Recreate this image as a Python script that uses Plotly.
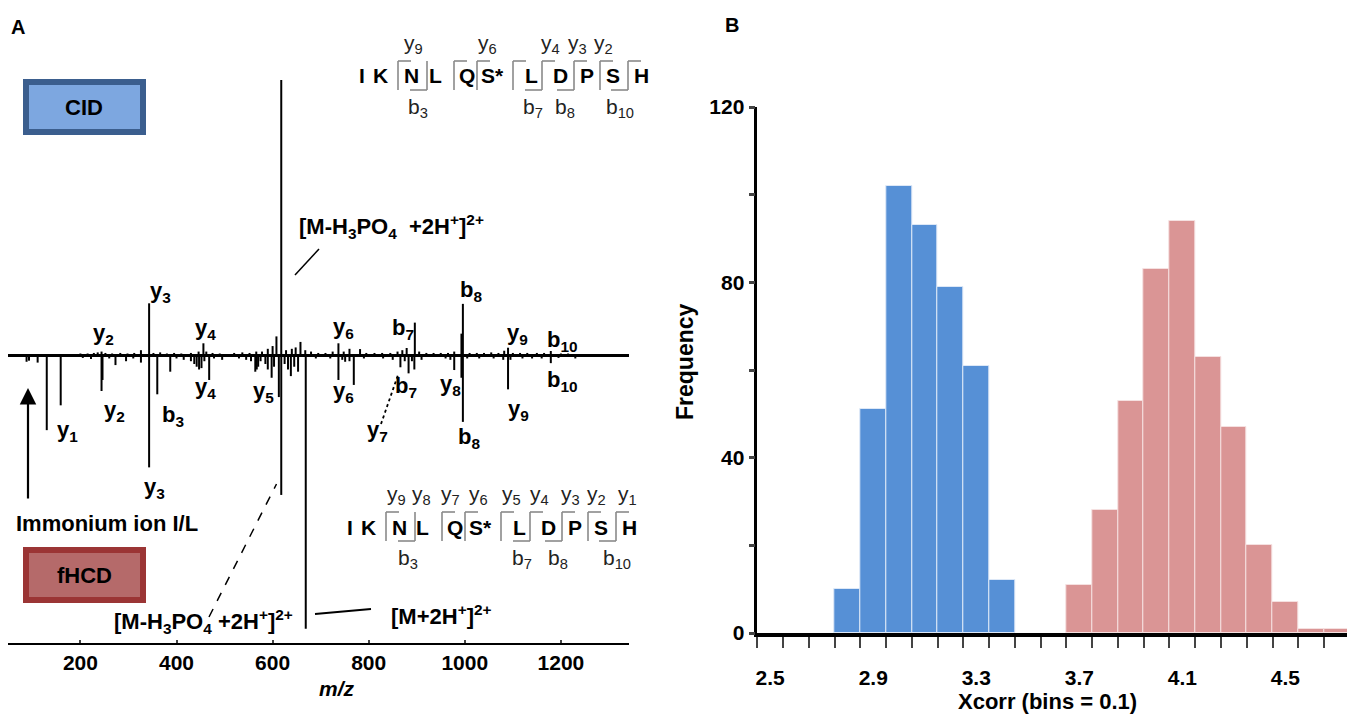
import plotly.graph_objects as go

# ---------------- Panel A data: mirrored MS/MS spectrum ----------------
# CID spectrum (upward), m/z and relative intensity (%)
cid_mz = [244, 343, 456, 608, 618, 658, 737, 782, 879, 896, 993, 996, 1090, 1179,
          200, 215, 228, 236, 252, 266, 283, 298, 312, 326, 352, 366, 380, 395, 410,
          430, 446, 462, 475, 490, 520, 537, 552, 566, 578, 590, 600, 628, 640, 648,
          668, 680, 695, 710, 725, 748, 760, 795, 812, 828, 845, 860, 870, 905, 920,
          935, 950, 965, 978, 1010, 1025, 1040, 1055, 1070, 1082, 1100, 1115, 1130,
          1150, 1165, 1200, 1215]
cid_int = [1.5, 19, 4.5, 7, 100, 5, 4.5, 2.4, 2.8, 12, 8, 18.8, 2.9, 1.7,
           0.8, 0.8, 1, 1.2, 1, 0.8, 1, 0.8, 1, 2, 1, 1.2, 0.8, 1, 0.8,
           1, 1.5, 1.5, 1, 0.8, 1, 1.2, 1, 1.5, 1.5, 2.5, 3.5, 2, 2.5, 3,
           2, 1.5, 1, 1, 1.5, 1.5, 2.5, 1, 1, 1, 1, 1.5, 2, 1.5, 1,
           1, 1, 1, 1.5, 1, 1, 1, 1.2, 1, 1.8, 1, 1, 1,
           1, 1, 0.8, 0.8]

# fHCD spectrum (drawn downward), m/z and relative intensity (%)
fhcd_mz = [88, 93, 111, 130, 159, 244, 246, 273, 295, 326, 343, 360, 387, 442, 447,
           452, 468, 564, 567, 570, 598, 613, 618, 638, 653, 669, 737, 751, 769,
           866, 883, 895, 978, 993, 996, 1090, 1179,
           205, 222, 260, 310, 400, 415, 430, 437, 458, 478, 495, 530, 545, 555,
           575, 585, 590, 603, 625, 632, 645, 690, 720, 745, 760, 790, 830, 850,
           875, 890, 910, 960, 970, 1005, 1030, 1060, 1080, 1095, 1120, 1140, 1160,
           1195, 1230]
fhcd_int = [2.2, 1.8, 2.5, 27, 18, 12.8, 8.8, 3.4, 2, 2.5, 40.5, 14, 5.8, 4, 5,
            4.5, 8.8, 5.8, 5, 4, 8, 15, 50.5, 7.4, 5.8, 99, 8.8, 2.2, 10.6,
            4.2, 6.4, 5, 5.2, 8, 24, 12.2, 2.7,
            0.8, 1.2, 1, 1, 1, 1.5, 2, 3, 2, 1, 1.5, 1, 1.5, 2,
            2, 3, 5, 4, 3, 5, 4, 1, 1, 1.5, 2, 1, 1, 1.5,
            2, 2, 1.5, 1, 1.5, 1, 1, 1, 1.5, 1.5, 1, 1, 1,
            0.8, 1]

mz_ticks = [200, 400, 600, 800, 1000, 1200]

# ---------------- Panel B data: Xcorr histograms ----------------
cid_bins = [2.8, 2.9, 3.0, 3.1, 3.2, 3.3, 3.4]
cid_counts = [10, 51, 102, 93, 79, 61, 12]
fhcd_bins = [3.7, 3.8, 3.9, 4.0, 4.1, 4.2, 4.3, 4.4, 4.5, 4.6, 4.7]
fhcd_counts = [11, 28, 53, 83, 94, 63, 47, 20, 7, 1, 1]
xcorr_labels = [2.5, 2.9, 3.3, 3.7, 4.1, 4.5]
freq_ticks = [0, 20, 40, 60, 80, 100, 120]
freq_labels = ["0", "", "40", "", "80", "", "120"]

# peptide sequence
residues = ["I", "K", "N", "L", "Q", "S*", "L", "D", "P", "S", "H"]

# ---------------- layout helpers ----------------
W, H = 1347, 714
FONT = "Liberation Sans, Arial, Helvetica, sans-serif"
BLUE = "#5690D6"
PINK = "#DA9595"


def px(x):
    return x / W


def py(y):
    return 1 - y / H


def sticks(mz, inten, sign):
    xs, ys = [], []
    for m, v in zip(mz, inten):
        xs += [m, m, None]
        ys += [0, sign * v, None]
    return xs, ys


fig = go.Figure()

# Panel A spectrum
xs, ys = sticks(cid_mz, cid_int, 1)
fig.add_trace(go.Scatter(x=xs, y=ys, mode="lines", line=dict(color="black", width=2),
                         xaxis="x", yaxis="y", showlegend=False, hoverinfo="skip"))
xs, ys = sticks(fhcd_mz, fhcd_int, -1)
fig.add_trace(go.Scatter(x=xs, y=ys, mode="lines", line=dict(color="black", width=2),
                         xaxis="x", yaxis="y", showlegend=False, hoverinfo="skip"))

# Panel B histograms
fig.add_trace(go.Bar(x=cid_bins, y=cid_counts, width=0.1, marker=dict(color=BLUE, line=dict(color="#DDE8F7", width=1)),
                     xaxis="x2", yaxis="y2", showlegend=False))
fig.add_trace(go.Bar(x=fhcd_bins, y=fhcd_counts, width=0.1, marker=dict(color=PINK, line=dict(color="#F5E0E0", width=1)),
                     xaxis="x2", yaxis="y2", showlegend=False))
# invisible trace to carry the labelled overlay axis
fig.add_trace(go.Scatter(x=[xcorr_labels[0]], y=[0], mode="markers", marker=dict(opacity=0),
                         xaxis="x3", yaxis="y2", showlegend=False, hoverinfo="skip"))

xa_lo, xa_hi = (8 + 15.7) / 0.4805, (629 + 15.7) / 0.4805
xb_lo = 2.45
xb_hi = 2.45 + (W - 757.3) / 257.6

annotations = []
shapes = []


def text(t, x, y, size=21, bold=True, xanchor="center", yanchor="middle", angle=0, italic=False, color="black"):
    s = t
    if bold:
        s = "<b>" + s + "</b>"
    if italic:
        s = "<i>" + s + "</i>"
    annotations.append(dict(text=s, x=px(x), y=py(y), xref="paper", yref="paper", showarrow=False,
                            xanchor=xanchor, yanchor=yanchor, textangle=angle,
                            font=dict(family=FONT, size=size, color=color)))


def line(x0, y0, x1, y1, width=1.5, dash="solid", color="black"):
    shapes.append(dict(type="line", xref="paper", yref="paper", x0=px(x0), y0=py(y0), x1=px(x1), y1=py(y1),
                       line=dict(color=color, width=width, dash=dash)))


# panel letters
text("A", 18, 27, size=20)
text("B", 732, 25, size=20)

# method boxes
shapes.append(dict(type="rect", xref="paper", yref="paper", x0=px(26), x1=px(143), y0=py(82), y1=py(132),
                   fillcolor="#7DA7E0", line=dict(color="#3B5E8E", width=6)))
text("CID", 84, 107, size=22)
shapes.append(dict(type="rect", xref="paper", yref="paper", x0=px(26), x1=px(143), y0=py(550), y1=py(600),
                   fillcolor="#B56A6A", line=dict(color="#9B3535", width=6)))
text("fHCD", 84, 575, size=22)

# peak labels CID
for lab, x, y in [("y<sub>3</sub>", 160, 292), ("y<sub>2</sub>", 103, 334), ("y<sub>4</sub>", 205, 329),
                  ("y<sub>6</sub>", 343, 328), ("b<sub>7</sub>", 403, 329), ("b<sub>8</sub>", 471, 291),
                  ("y<sub>9</sub>", 517, 334), ("b<sub>10</sub>", 562, 341)]:
    text(lab, x, y, size=22)
# peak labels fHCD
for lab, x, y in [("y<sub>2</sub>", 114, 411), ("y<sub>1</sub>", 67, 431), ("b<sub>3</sub>", 173, 416),
                  ("y<sub>4</sub>", 205, 388), ("y<sub>5</sub>", 263, 392), ("y<sub>6</sub>", 343, 392),
                  ("b<sub>7</sub>", 406, 387), ("y<sub>7</sub>", 377, 431), ("y<sub>8</sub>", 450, 385),
                  ("b<sub>8</sub>", 469, 438), ("y<sub>9</sub>", 518, 410), ("b<sub>10</sub>", 562, 381),
                  ("y<sub>3</sub>", 154, 488)]:
    text(lab, x, y, size=22)

text("Immonium ion I/L", 107, 523, size=22)
text("[M-H<sub>3</sub>PO<sub>4</sub>  +2H<sup>+</sup>]<sup>2+</sup>", 297, 226, size=22, xanchor="left")
text("[M-H<sub>3</sub>PO<sub>4</sub> +2H<sup>+</sup>]<sup>2+</sup>", 203, 621, size=22)
text("[M+2H<sup>+</sup>]<sup>2+</sup>", 441, 615, size=22)
text("m/z", 337, 688, size=21, italic=True)

# leader lines
line(295, 275, 319, 249, width=1.5)
line(209, 617, 276.5, 484, width=1.5, dash="dash")
line(315, 614, 371, 609, width=1.8)
line(381, 424, 398, 375, width=1.8, dash="dot")

# immonium arrow
annotations.append(dict(text="", x=px(28), y=py(388), xref="paper", yref="paper", showarrow=True,
                        ax=0, ay=112, arrowhead=2, arrowsize=1.5, arrowwidth=2.2, arrowcolor="black"))

# peptide sequence diagrams
letter_dx = [0, 18.3, 50, 73.3, 105, 131, 170, 198.3, 225, 251.6, 280]
cleave_dx = [36.3, 65.3, 92.3, 115.3, 151.3, 180.3, 212.3, 238.3, 266.3]
y_hooks = [0, 2, 3, 4, 5, 6, 7, 8]
b_hooks = [1, 5, 6, 8]


def sequence(x0, yl, ylabels, blabels):
    for r, dx in zip(residues, letter_dx):
        text(r, x0 + dx, yl, size=21)
    top, bot = yl - 15, yl + 14
    for i, cx in enumerate(cleave_dx):
        c = x0 + cx
        line(c, top, c, bot, width=1.6, color="#8A8A8A")
        if i in y_hooks:
            line(c, top, c + 13, top, width=1.6, color="#8A8A8A")
        if i in b_hooks:
            line(c - 17, bot, c, bot, width=1.6, color="#8A8A8A")
    for lab, x in ylabels:
        text(lab, x, yl - 32, size=21, bold=False, color="#222222")
    for lab, x in blabels:
        text(lab, x, yl + 32, size=21, bold=False, color="#222222")


sequence(361.7, 76,
         [("y<sub>9</sub>", 413), ("y<sub>6</sub>", 487), ("y<sub>4</sub>", 550), ("y<sub>3</sub>", 577), ("y<sub>2</sub>", 603)],
         [("b<sub>3</sub>", 418), ("b<sub>7</sub>", 533), ("b<sub>8</sub>", 565), ("b<sub>10</sub>", 620)])
sequence(349.7, 527,
         [("y<sub>9</sub>", 396), ("y<sub>8</sub>", 421), ("y<sub>7</sub>", 450), ("y<sub>6</sub>", 478), ("y<sub>5</sub>", 511),
          ("y<sub>4</sub>", 539), ("y<sub>3</sub>", 570), ("y<sub>2</sub>", 596), ("y<sub>1</sub>", 627)],
         [("b<sub>3</sub>", 408), ("b<sub>7</sub>", 522), ("b<sub>8</sub>", 558), ("b<sub>10</sub>", 617)])

# panel B titles
text("Frequency", 685, 362, size=23, angle=-90)
text("Xcorr (bins = 0.1)", 1047, 701, size=22)

tickfont = dict(family=FONT, size=21, color="black", weight="bold")

fig.update_layout(
    width=W, height=H, margin=dict(l=0, r=0, t=0, b=0, pad=0, autoexpand=False),
    paper_bgcolor="white", plot_bgcolor="rgba(0,0,0,0)",
    barmode="overlay", bargap=0,
    xaxis=dict(domain=[px(8), px(629)], range=[xa_lo, xa_hi], anchor="y", showgrid=False, zeroline=False,
               showline=True, linecolor="black", linewidth=2, ticks="inside", ticklen=3, tickwidth=1.5,
               tickvals=mz_ticks, tickfont=tickfont, automargin=False),
    yaxis=dict(domain=[py(643), py(60)], range=[-104.2, 107.25], anchor="x", visible=True, showgrid=False,
               showticklabels=False, showline=False, ticks="", zeroline=True, zerolinecolor="black",
               zerolinewidth=3, automargin=False),
    xaxis2=dict(domain=[px(757.3), 1], range=[xb_lo, xb_hi], anchor="y2", showgrid=False, zeroline=False,
                showline=True, linecolor="black", linewidth=4, ticks="outside", ticklen=11, tickwidth=2,
                tickvals=[round(2.45 + 0.1 * k, 2) for k in range(23)], showticklabels=False, automargin=False),
    xaxis3=dict(domain=[px(757.3), 1], range=[xb_lo, xb_hi], anchor="y2", overlaying="x2", showgrid=False,
                zeroline=False, showline=False, ticks="", tickvals=xcorr_labels,
                ticktext=[f"{v:.1f}" for v in xcorr_labels], tickfont=tickfont, ticklabelstandoff=30,
                automargin=False),
    yaxis2=dict(domain=[py(633), py(107)], range=[0, 120], anchor="x2", showgrid=False, zeroline=False,
                showline=True, linecolor="black", linewidth=2.5, ticks="outside", ticklen=6, tickwidth=3,
                tickvals=freq_ticks, ticktext=freq_labels, tickfont=tickfont, automargin=False),
    annotations=annotations, shapes=shapes,
)

fig.write_html("out.html", config={"displayModeBar": False},
               post_script="document.body.style.margin='0px';document.body.style.overflow='hidden';")
